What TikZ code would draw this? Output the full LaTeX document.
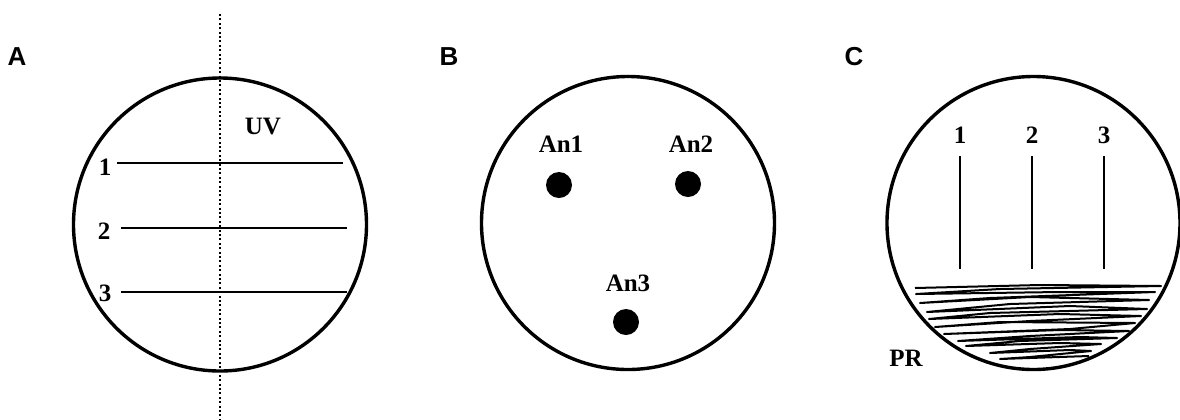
\documentclass[tikz,border=0pt]{standalone}
\usepackage{fontspec}
\setmainfont{Liberation Serif}
\newfontfamily\panelfont{Liberation Sans}
\usetikzlibrary{positioning}

\begin{document}
\begin{tikzpicture}[x=0.5pt, y=-0.5pt,
  dish/.style={circle, draw, line width=1.7pt, minimum size=146.5pt, inner sep=0pt},
  panel/.style={font=\panelfont\fontsize{13}{15}\selectfont\bfseries, inner sep=0pt},
  lbl/.style={font=\fontsize{12.5}{15}\selectfont\bfseries, inner sep=0pt},
  streak/.style={line width=1.1pt},
  colony/.style={circle, fill, minimum size=13pt, inner sep=0pt},
  uvline/.style={line width=1.1pt, dash pattern=on 1pt off 1.2pt}]
\useasboundingbox (0,0) rectangle (1180,419);
% Panel A: streaks across the UV boundary
\node[panel] (labA) at (17,57) {A};
\node[dish] (dishA) at (220,224.5) {};
\coordinate (uvtop) at (220,14);
\coordinate (uvbot) at (220,419);
\draw[uvline] (uvtop) -- (uvbot);
\node[lbl] (uv) at (263,126) {UV};
\foreach \n/\y/\xa/\xb in {1/163/117/343, 2/228/121/347, 3/292/121/347}{
  \coordinate (sA\n) at (\xa,\y);
  \coordinate (eA\n) at (\xb,\y);
  \draw[streak] (sA\n) -- (eA\n);
}
\node[lbl] (nA1) at (105,167) {1};
\node[lbl] (nA2) at (104,231) {2};
\node[lbl] (nA3) at (105,293) {3};
% Panel B: spotted colonies
\node[panel] (labB) at (449,57) {B};
\node[dish] (dishB) at (628,223) {};
\node[colony] (an1) at (559,185) {};
\node[colony] (an2) at (688,184) {};
\node[colony] (an3) at (626,322) {};
\node[lbl] (tan1) at (561,144) {An1};
\node[lbl] (tan2) at (691,144) {An2};
\node[lbl] (tan3) at (628,283) {An3};
% Panel C: cross streaks over PR lawn
\node[panel] (labC) at (854,57) {C};
\node[dish] (dishC) at (1033.5,223) {};
\foreach \n/\x in {1/960, 2/1032, 3/1104}{
  \coordinate (sC\n) at (\x,156);
  \coordinate (eC\n) at (\x,269);
  \draw[streak] (sC\n) -- (eC\n);
  \node[lbl] (nC\n) at (\x,135) {\n};
}
\draw[line width=1pt, line join=round]
  (915,288) -- (1040,285) -- (1161,286) -- (1000,289) -- (916,294) -- (1060,292)
  -- (1155,292) -- (990,298) -- (920,303) -- (1030,297) -- (1149,300) -- (1010,304)
  -- (927,312) -- (1070,306) -- (1147,309) -- (990,313) -- (929,319) -- (1060,314)
  -- (1141,316) -- (1030,321) -- (935,327) -- (1000,322) -- (1135,323) -- (1070,329)
  -- (944,334) -- (1060,330) -- (1129,331) -- (1030,336) -- (958,341) -- (1080,337)
  -- (1117,338) -- (1020,341) -- (966,346) -- (1060,343) -- (1101,344) -- (1030,349)
  -- (990,353) -- (1070,350) -- (1091,351) -- (1030,357) -- (1000,359) -- (1089,356);
\node[lbl] (pr) at (906,358) {PR};
\end{tikzpicture}
\end{document}
